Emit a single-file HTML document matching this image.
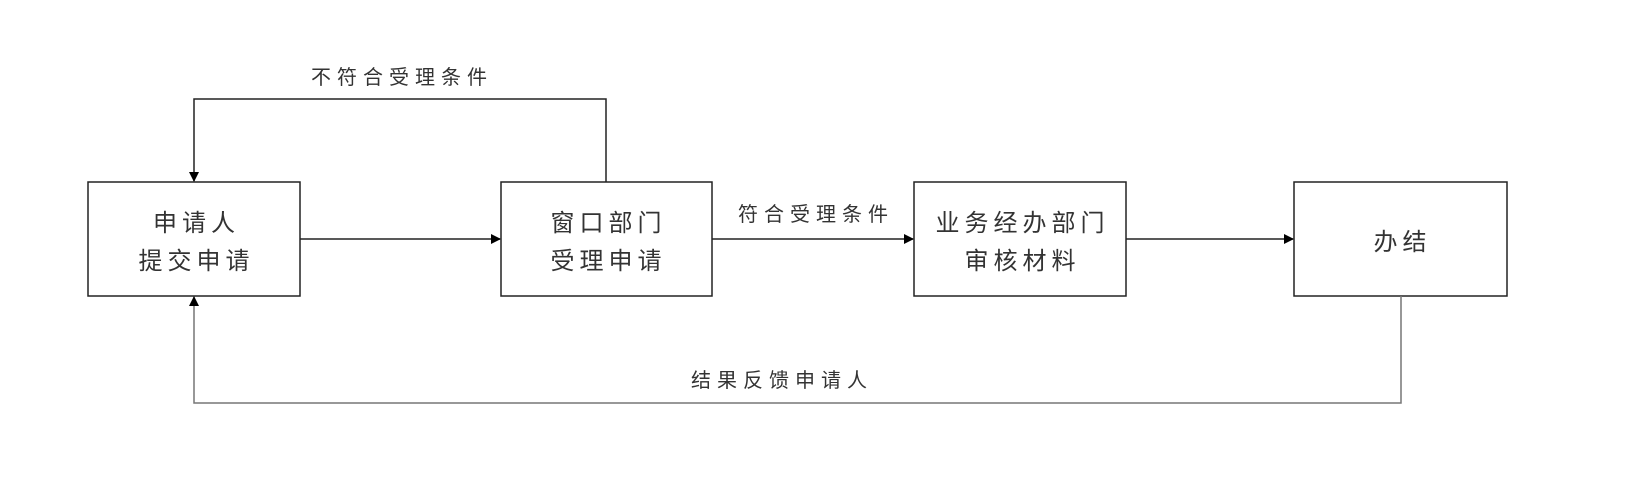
<!DOCTYPE html>
<html><head><meta charset="utf-8"><style>
html,body{margin:0;padding:0;background:#fff;}
svg text{font-family:"Liberation Sans","Noto Sans CJK SC",sans-serif;fill:#333;}
</style></head><body>
<svg width="1625" height="480" viewBox="0 0 1625 480" xmlns="http://www.w3.org/2000/svg">
<defs><marker id="a" markerWidth="10" markerHeight="10" refX="9" refY="5" orient="auto" markerUnits="userSpaceOnUse"><path d="M0,0 L10,5 L0,10 z" fill="#000"/></marker></defs>
<g fill="none" stroke="#222" stroke-width="1.5">
<rect x="88" y="182" width="212" height="114"/>
<rect x="501" y="182" width="211" height="114"/>
<rect x="914" y="182" width="212" height="114"/>
<rect x="1294" y="182" width="213" height="114"/>
<line x1="300" y1="239" x2="500" y2="239" marker-end="url(#a)"/>
<line x1="712" y1="239" x2="913" y2="239" marker-end="url(#a)"/>
<line x1="1126" y1="239" x2="1293" y2="239" marker-end="url(#a)"/>
<polyline points="606,182 606,99 194,99 194,181" marker-end="url(#a)"/>
<polyline points="1401,296 1401,403 194,403 194,297" stroke="#777" marker-end="url(#a)"/>
</g>
<g font-size="24" text-anchor="middle" letter-spacing="5">
<text x="196.5" y="231">申请人</text>
<text x="196.5" y="269">提交申请</text>
<text x="608.5" y="231">窗口部门</text>
<text x="608.5" y="269">受理申请</text>
<text x="1022.5" y="231">业务经办部门</text>
<text x="1022.5" y="269">审核材料</text>
<text x="1402.5" y="250">办结</text>
</g>
<g font-size="20" text-anchor="middle" letter-spacing="6">
<text x="402" y="84">不符合受理条件</text>
<text x="816" y="221">符合受理条件</text>
<text x="782" y="387">结果反馈申请人</text>
</g>
</svg>
</body></html>
